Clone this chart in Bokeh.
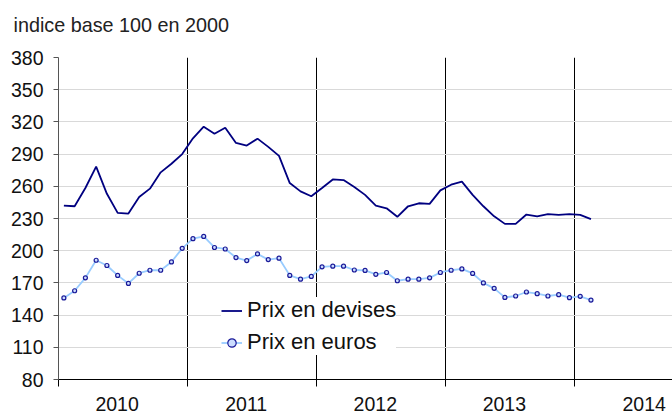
import numpy as np
from bokeh.plotting import figure
from bokeh.models import Range1d, FixedTicker, LinearAxis, Legend, LegendItem, Title
from bokeh.embed import file_html
from bokeh.resources import INLINE

title_text = "indice base 100 en 2000"
years = ["2010", "2011", "2012", "2013", "2014"]
y_ticks = [80, 110, 140, 170, 200, 230, 260, 290, 320, 350, 380]

# monthly values, Jan 2010 - Feb 2014
devises = [242, 241.4, 258.4, 278.4, 253, 235.2, 234.6, 250, 257.8, 273,
           281, 290, 304.7, 315.5, 309, 314.6, 300.4, 298, 304.4, 296.7,
           288.3, 263, 255.3, 250.7, 258.4, 266.4, 265.8, 259.4, 252, 242,
           239.5, 231.6, 241.4, 244.2, 243.6, 256.2, 261.5, 264.3, 252, 241.4,
           232, 225, 225, 233.7, 232, 234, 233.4, 234, 233.4, 229.4]
euros = [156, 162.7, 174.7, 191.1, 186.2, 177, 169.5, 179, 181.8, 181.8,
         189.5, 202.2, 211.2, 213.3, 203, 201.6, 193.6, 190.8, 197, 191.7,
         193, 177, 173.5, 176, 185, 185.6, 185.6, 182, 181.6, 178,
         179.7, 172, 173.5, 173.5, 174.7, 179.7, 181.8, 183, 178.8, 170,
         164.9, 156.5, 157.8, 161.5, 160, 157.8, 159, 156.2, 157.5, 154]

FONT = "Liberation Sans"

x = np.arange(len(devises)) + 0.5
year_bounds = [12 * k for k in range(len(years))]
label_pos = [12 * k + 5.45 for k in range(len(years) - 1)] + [54.45]

p = figure(width=672, height=413, output_backend="svg", toolbar_location=None,
           x_range=Range1d(0, 57.08), y_range=Range1d(80, 380),
           min_border_left=58, min_border_right=0, min_border_top=57,
           min_border_bottom=31)
p.outline_line_color = None
p.background_fill_color = "white"

p.title.text = title_text
p.title.align = "left"
p.title.offset = -45
p.title.standoff = 0
p.title.text_font = FONT
p.title.text_font_size = "19.8px"
p.title.text_font_style = "normal"
p.title.text_color = "#222222"
# spacer between the title and the frame
p.add_layout(Title(text=" ", text_font_size="1px", standoff=19), "above")

# x axis 1: year boundary ticks
xa = p.xaxis[0]
xa.ticker = FixedTicker(ticks=year_bounds)
xa.major_tick_out = 7
xa.major_tick_in = 0
xa.minor_tick_line_color = None
xa.major_label_text_font_size = "0px"
xa.major_label_overrides = {b: "" for b in year_bounds}
xa.major_label_standoff = 0
xa.axis_line_color = "black"
xa.major_tick_line_color = "black"

# x axis 2: year labels
xa2 = LinearAxis(ticker=FixedTicker(ticks=label_pos),
                 major_label_overrides={pos: y for pos, y in zip(label_pos, years)})
xa2.axis_line_color = None
xa2.major_tick_line_color = None
xa2.minor_tick_line_color = None
xa2.major_tick_out = 0
xa2.major_tick_in = 0
xa2.major_label_standoff = 10
xa2.major_label_text_font = FONT
xa2.major_label_text_font_size = "19.5px"
xa2.major_label_text_color = "#111111"
p.add_layout(xa2, "below")

ya = p.yaxis[0]
ya.ticker = FixedTicker(ticks=y_ticks)
ya.major_tick_out = 5
ya.major_tick_in = 0
ya.minor_tick_line_color = None
ya.axis_line_color = "#555555"
ya.major_tick_line_color = "#555555"
ya.major_label_standoff = 10
ya.major_label_text_font = FONT
ya.major_label_text_font_size = "19.5px"
ya.major_label_text_color = "#111111"

p.ygrid.ticker = FixedTicker(ticks=y_ticks[1:])
p.ygrid.grid_line_color = "#d9d9d9"
p.ygrid.grid_line_width = 1
p.xgrid.ticker = FixedTicker(ticks=year_bounds[1:])
p.xgrid.grid_line_color = "black"
p.xgrid.grid_line_width = 1

r1 = p.line(x, devises, line_color="#000080", line_width=1.8)
r2 = p.line(x, euros, line_color="#99ccff", line_width=1.8)
r3 = p.scatter(x, euros, marker="circle", size=4, line_color="#1a1a99",
               fill_color="#ccddff", line_width=1.2)

legend = Legend(items=[LegendItem(label="Prix en devises", renderers=[r1]),
                       LegendItem(label="Prix en euros", renderers=[r2, r3])],
                location=(163, 24), background_fill_color="white",
                background_fill_alpha=1, border_line_color=None,
                label_text_font=FONT, label_text_font_size="22px",
                label_text_color="#111111",
                glyph_width=21, glyph_height=25, label_height=25,
                spacing=6, padding=12, label_standoff=5, margin=0)
p.add_layout(legend)

open("out.html", "w").write(file_html(p, INLINE))
